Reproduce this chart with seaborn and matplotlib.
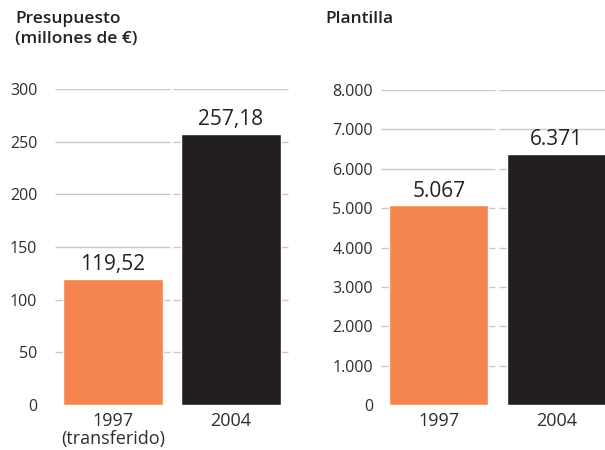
import numpy as np
import pandas as pd
import matplotlib
matplotlib.use("Agg")
import matplotlib.pyplot as plt
import seaborn as sns

# data
years = ["1997", "2004"]
presupuesto = [119.52, 257.18]
presupuesto_labels = ["119,52", "257,18"]
plantilla = [5067, 6371]
plantilla_labels = ["5.067", "6.371"]
left_ticks = [0, 50, 100, 150, 200, 250, 300]
right_ticks = [0, 1000, 2000, 3000, 4000, 5000, 6000, 7000, 8000]
right_tick_labels = ["0", "1.000", "2.000", "3.000", "4.000", "5.000", "6.000", "7.000", "8.000"]

colors = {"1997": "#F4854F", "2004": "#231F20"}
grid_color = "#C8C8C8"
text_color = "#2E2E2E"

sns.set_style("white")
plt.rcParams["font.family"] = ["Open Sans", "DejaVu Sans"]

fig = plt.figure(figsize=(6.05, 4.5), dpi=100)
W, H = 605, 450


def panel(rect_px, values, labels, ticks, tick_labels, ymax, cat_labels, pad):
    x0, x1, ytop, ybot = rect_px
    ax = fig.add_axes([x0 / W, 1 - ybot / H, (x1 - x0) / W, (ybot - ytop) / H])
    df = pd.DataFrame({"year": years, "value": values})
    sns.barplot(data=df, x="year", y="value", hue="year", palette=colors,
                width=0.84, legend=False, ax=ax, zorder=3, saturation=1)
    ax.set_xlim(-0.5, 1.5)
    ax.set_ylim(0, ymax)
    # split gridlines per category slot
    for i in range(len(years)):
        ax.hlines([t for t in ticks if t > 0], i - 0.49, i + 0.48,
                  color=grid_color, lw=1.0, zorder=1)
    ax.set_yticks(ticks)
    ax.set_yticklabels(tick_labels)
    ax.tick_params(axis="y", length=0, pad=pad, labelsize=11.5, labelcolor=text_color)
    ax.tick_params(axis="x", length=0, pad=5, labelsize=13, labelcolor=text_color)
    ax.set_xticks(range(len(years)))
    ax.set_xticklabels(cat_labels, linespacing=1.0)
    ax.set_xlabel("")
    ax.set_ylabel("")
    for s in ax.spines.values():
        s.set_visible(False)
    for i, (v, lab) in enumerate(zip(values, labels)):
        ax.text(i, v + ymax * 0.012, lab, ha="center", va="bottom",
                fontsize=15, color="#222222", clip_on=False)
    return ax


panel((54, 290, 89, 405), presupuesto, presupuesto_labels, left_ticks,
      [str(t) for t in left_ticks], 300, ["1997\n(transferido)", "2004"], 12)
panel((380, 615, 90, 405), plantilla, plantilla_labels, right_ticks,
      right_tick_labels, 8000, years, 5)

fig.text(15 / W, 1 - 11 / H, "Presupuesto\n(millones de €)", ha="left", va="top",
         fontsize=12.5, fontweight="semibold", color="#222222", linespacing=1.35)
fig.text(325 / W, 1 - 11 / H, "Plantilla", ha="left", va="top",
         fontsize=12.5, fontweight="semibold", color="#222222")

fig.savefig("out.png", dpi=100)
